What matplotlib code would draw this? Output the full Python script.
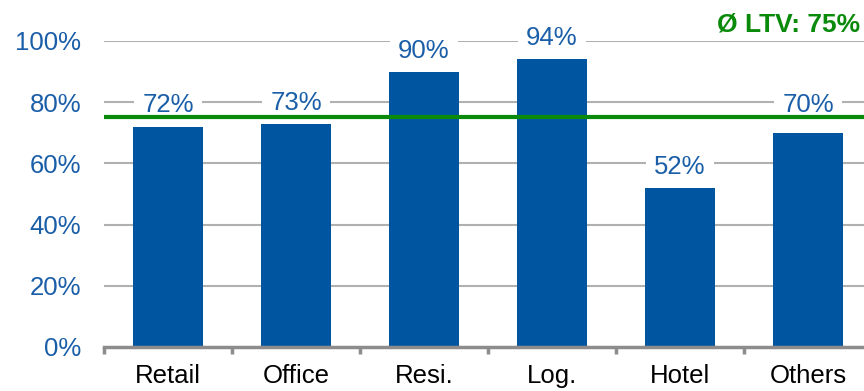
import matplotlib.pyplot as plt
import numpy as np

categories = ["Retail", "Office", "Resi.", "Log.", "Hotel", "Others"]
ltv = [72, 73, 90, 94, 52, 70]
avg_ltv = 75
yticks = [0, 20, 40, 60, 80, 100]

BLUE = "#0055A0"
TXT_BLUE = "#1A5EA8"
GREEN = "#0A8A0A"
GRID = "#B0B0B0"
FS = 18.5

plt.rcParams['font.family'] = ['Liberation Sans', 'DejaVu Sans']

fig = plt.figure(figsize=(8.64, 3.91), dpi=100)
W, H = 864, 391
x0, x1 = 104, 872
y0, y1 = 347, 41
ax = fig.add_axes([x0 / W, (H - y0) / H, (x1 - x0) / W, (y0 - y1) / H])

x = np.arange(len(categories))
ax.set_xlim(-0.5, len(categories) - 0.5)
ax.set_ylim(0, 100)

for v in yticks[1:]:
    ax.axhline(v, color=GRID, lw=1.5, zorder=1)

ax.bar(x, ltv, width=0.55, color=BLUE, zorder=3)

# label baseline: a little above the bar, but kept clear of the average line
for xi, v in zip(x, ltv):
    base = v + 4.6
    if avg_ltv - 8 <= base <= avg_ltv + 2:
        base = avg_ltv + 1.9
    ax.text(xi, base, f"{v}%", ha="center", va="baseline", fontsize=FS,
            color=TXT_BLUE, zorder=2.5,
            bbox=dict(boxstyle="square,pad=0.33", fc="white", ec="none"))

ax.axhline(avg_ltv, color=GREEN, lw=3, zorder=5)

for s in ["top", "right", "left"]:
    ax.spines[s].set_visible(False)
ax.spines["bottom"].set_color("#8C8C8C")
ax.spines["bottom"].set_linewidth(2.5)
ax.spines["bottom"].set_zorder(4)

ax.set_yticks(yticks)
ax.set_yticklabels([f"{v}%" for v in yticks], fontsize=FS, color=TXT_BLUE)
ax.tick_params(axis="y", length=0, pad=16.5)

ax.set_xticks(np.arange(len(categories) + 1) - 0.5, minor=False)
ax.set_xticklabels([])
ax.tick_params(axis="x", which="major", length=5, width=2.5, color="#8C8C8C", direction="out")
ax.set_xticks(x, minor=True)
ax.set_xticklabels(categories, minor=True, fontsize=FS, color="black")
ax.tick_params(axis="x", which="minor", length=0, pad=12)

fig.text(860 / W, (H - 31) / H, f"Ø LTV: {avg_ltv}%", ha="right", va="baseline",
         fontsize=19, fontweight="bold", color=GREEN)

fig.savefig("out.png", dpi=100)
